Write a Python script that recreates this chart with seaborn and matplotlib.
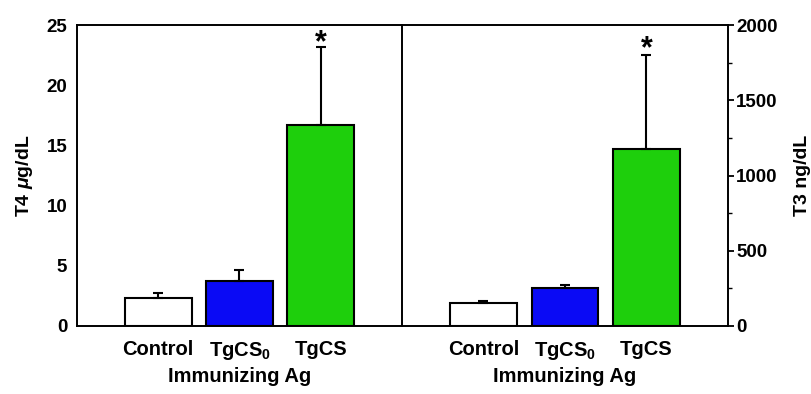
import numpy as np
import pandas as pd
import matplotlib
matplotlib.use('Agg')
import matplotlib.pyplot as plt
import seaborn as sns
from matplotlib.ticker import MultipleLocator

sns.set_theme(style='white')
plt.rcParams['font.family'] = ['Liberation Sans', 'DejaVu Sans']
plt.rcParams['font.weight'] = 'bold'
plt.rcParams['text.color'] = 'black'
plt.rcParams['axes.labelcolor'] = 'black'
plt.rcParams['xtick.color'] = 'black'
plt.rcParams['ytick.color'] = 'black'
plt.rcParams['mathtext.fontset'] = 'custom'
plt.rcParams['mathtext.rm'] = 'Liberation Sans:bold'
plt.rcParams['mathtext.it'] = 'Liberation Sans:bold:italic'
plt.rcParams['mathtext.bf'] = 'Liberation Sans:bold'

groups = ['Control', 'TgCS$_0$', 'TgCS']
bar_colors = ['#ffffff', '#0a0af5', '#1ecf0c']

t4_mean = [2.3, 3.7, 16.7]
t4_err = [0.45, 0.95, 6.5]

t3_mean = [155, 251, 1178]
t3_err = [12, 22, 622]

df4 = pd.DataFrame({'group': groups, 'value': t4_mean})
df3 = pd.DataFrame({'group': groups, 'value': t3_mean})

fig = plt.figure(figsize=(8.12, 3.94), dpi=100)
ax1 = fig.add_axes([77 / 812, 1 - 326 / 394, 325 / 812, 301 / 394])
ax2 = fig.add_axes([402 / 812, 1 - 326 / 394, 326 / 812, 301 / 394])
ax2.set_facecolor('none')


def draw_panel(ax, df, errs, ymax, star_off):
    sns.barplot(data=df, x='group', y='value', hue='group', palette=bar_colors,
                legend=False, width=0.82, edgecolor='black', linewidth=1.5,
                errorbar=None, ax=ax, saturation=1)
    x = np.arange(len(df))
    ax.errorbar(x, df['value'], yerr=[np.zeros(len(errs)), errs], fmt='none',
                ecolor='black', elinewidth=1.5, capsize=3.5, capthick=1.5)
    top = df['value'].iloc[2] + errs[2]
    ax.annotate('*', (2, top), xytext=(0, star_off), textcoords='offset points',
                ha='center', va='baseline', fontsize=22, fontweight='bold')
    ax.set_xlim(-1, 3)
    ax.set_ylim(0, ymax)
    ax.set_xlabel('Immunizing Ag', fontsize=14.5, fontweight='bold', labelpad=4)
    ax.tick_params(axis='x', length=0, pad=10, labelsize=14.5)
    for s in ax.spines.values():
        s.set_linewidth(1.4)
        s.set_color('black')


draw_panel(ax1, df4, t4_err, 25, -3.5)
draw_panel(ax2, df3, t3_err, 2000, -1.5)

ax1.set_yticks([0, 5, 10, 15, 20, 25])
ax1.tick_params(axis='y', direction='in', length=4, width=1.3, pad=7, labelsize=13.5)
ax1.set_ylabel('T4 $\\mathit{\\mu}$g/dL', fontsize=14, fontweight='bold', labelpad=8)

ax2.spines['left'].set_visible(False)
ax2.yaxis.tick_right()
ax2.yaxis.set_label_position('right')
ax2.set_yticks([0, 500, 1000, 1500, 2000])
ax2.yaxis.set_minor_locator(MultipleLocator(250))
ax2.tick_params(axis='y', which='major', direction='out', length=4, width=1.3,
                pad=2, labelsize=13.5, left=False, right=True)
ax2.tick_params(axis='y', which='minor', direction='out', length=3, width=1.0,
                left=False, right=True)
ax2.set_ylabel('T3 ng/dL', fontsize=14, fontweight='bold', labelpad=12)

for ax in (ax1, ax2):
    for lab in ax.get_xticklabels() + ax.get_yticklabels():
        lab.set_fontweight('bold')

fig.savefig('out.png', dpi=100)
